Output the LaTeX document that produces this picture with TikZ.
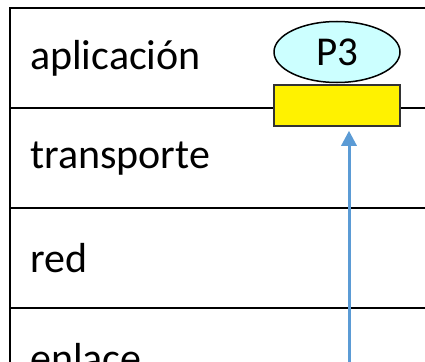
\documentclass[tikz,border=0pt]{standalone}
\usepackage{fontspec}
\setmainfont{Carlito}
\usetikzlibrary{shapes.geometric,arrows.meta}

\definecolor{procfill}{RGB}{204,255,255}
\definecolor{flowblue}{RGB}{91,155,213}

\begin{document}
\begin{tikzpicture}[x=1pt,y=-1pt,
    layer/.style={draw, line width=2.4pt, anchor=north west,
                  minimum width=520pt, minimum height=100pt,
                  text width=480pt, inner xsep=20pt, align=left,
                  font=\fontsize{42}{46}\selectfont},
    proc/.style={ellipse, draw, line width=1.5pt, fill=procfill,
                 minimum width=126pt, minimum height=61pt, inner sep=0pt,
                 font=\fontsize{41}{45}\selectfont},
    sock/.style={draw=black!80, line width=1.5pt, fill=yellow,
                 minimum width=126pt, minimum height=41pt, inner sep=0pt},
    flow/.style={draw=flowblue, line width=3pt,
                 -{Triangle[width=15pt,length=15pt]}, shorten >=4pt}]
    \useasboundingbox (0,0) rectangle (425,361);
    \begin{scope}
      \clip (0,0) rectangle (425,361);
      % protocol stack
      \node (app)  [layer] at (9,7)   {aplicación};
      \node (tra)  [layer] at (9,107) {transporte};
      \node (net)  [layer] at (9,207) {red};
      \node (lnk)  [layer] at (9,307) {enlace};
      % process and its socket
      \node (p3)   [proc] at (337,52)    {P3};
      \node (s3)   [sock] at (337,105.5) {};
      \coordinate (src) at (349,420);
      \draw [flow] (src) -- (src |- s3.south);
    \end{scope}
\end{tikzpicture}
\end{document}
